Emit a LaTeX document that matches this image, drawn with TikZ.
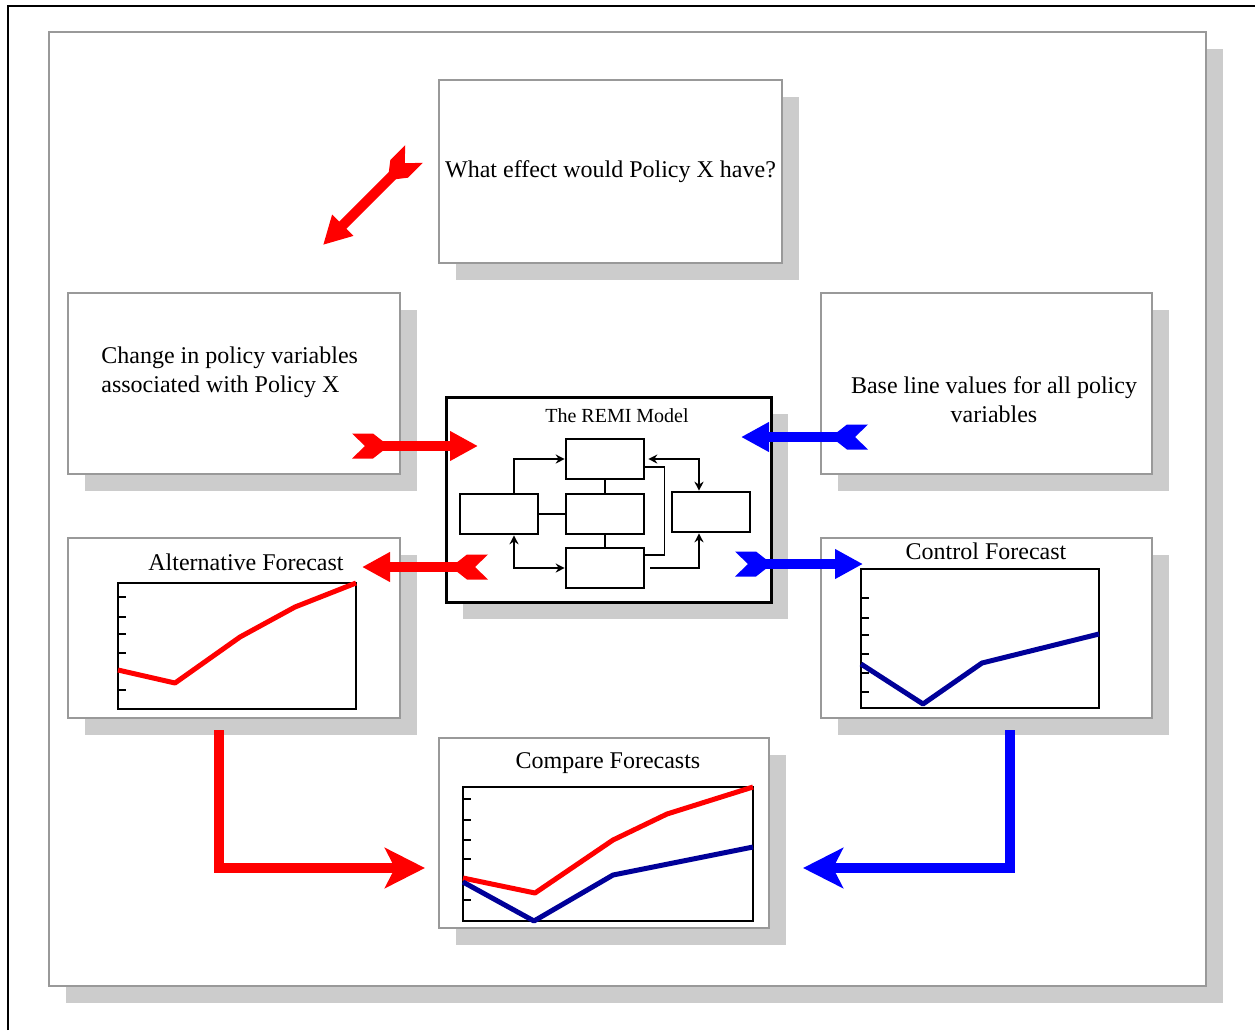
\documentclass[tikz,border=0pt]{standalone}
\usepackage{fontspec}
\setmainfont{Liberation Serif}
\usetikzlibrary{arrows.meta,shadows}
\definecolor{shade}{RGB}{204,204,204}
\definecolor{rim}{RGB}{153,153,153}
\definecolor{navyline}{RGB}{0,0,153}
\tikzset{
  panel/.style={draw=rim, line width=1pt, fill=white, inner sep=0pt, anchor=north west,
    drop shadow={shadow xshift=8.5pt, shadow yshift=-8.5pt, fill=shade, opacity=1}},
  cell/.style={draw, line width=1.3pt, fill=white, minimum width=39pt, minimum height=20pt, inner sep=0pt},
  lbl/.style={font=\fontsize{12}{14.5}\selectfont, inner sep=0pt},
  fat/.style={line width=5pt, shorten <=10pt, -{Triangle[length=14pt,width=14pt]}},
  elbow/.style={line width=5pt, -{Stealth[length=20pt,width=20pt,inset=5pt]}},
  fletch/.pic={\fill (0,-12.5) -- (21,-12.5) -- (37,0) -- (21,12.5) -- (0,12.5) -- (13,0) -- cycle;},
  series/.style={line width=2.5pt, line join=round},
  axes/.style={line width=1.3pt}
}
\begin{document}
\begin{tikzpicture}[x=0.5pt,y=-0.5pt]
\useasboundingbox (0,0) rectangle (1255,1030);
% outer frame
\draw[line width=1.2pt] (8,1030) -- (8,6) -- (1255,6);
% boxes
\node[panel, minimum width=578.5pt, minimum height=477pt] (board) at (48,31) {};
\node[panel, lbl, minimum width=171.5pt, minimum height=91.5pt] (question) at (438,79) {What effect would Policy X have?};
\node[panel, minimum width=166pt, minimum height=90.5pt] (change) at (67,292) {};
\node[lbl, anchor=west, align=left] (changetxt) at (101,372) {Change in policy variables\\associated with Policy X};
\node[panel, minimum width=165.5pt, minimum height=90.5pt] (base) at (820,292) {};
\node[lbl, align=center] (basetxt) at (994,400) {Base line values for all policy\\variables};
\node[panel, draw=black, line width=1.3pt, minimum width=162.5pt, minimum height=102.5pt] (remi) at (445,396) {};
\node[font=\fontsize{10}{12}\selectfont, inner sep=0pt] (remitxt) at (617,416) {The REMI Model};
\node[panel, minimum width=166pt, minimum height=90pt] (alt) at (67,537) {};
\node[lbl] (alttxt) at (246,562) {Alternative Forecast};
\node[panel, minimum width=165.5pt, minimum height=90pt] (ctrl) at (820,537) {};
\node[lbl] (ctrltxt) at (986,551) {Control Forecast};
\node[panel, minimum width=165pt, minimum height=95pt] (cmp) at (438,737) {};
\node[lbl] (cmptxt) at (608,763) {Compare Forecasts};
% model cells
\node[cell] (mtop) at (605,459) {};
\node[cell] (mmid) at (605,514) {};
\node[cell] (mbot) at (605,568) {};
\node[cell] (mleft) at (499,514) {};
\node[cell] (mright) at (711,512) {};
\begin{scope}[line width=0.8pt, >={Stealth[length=4.5pt,width=4.5pt]}]
\draw (mtop) -- (mmid);
\draw (mmid) -- (mbot);
\draw (mleft) -- (mmid);
\draw[->] ([xshift=7.5pt]mleft.north) |- (mtop.west);
\draw[<->] ([xshift=7.5pt]mleft.south) |- (mbot.west);
\draw[<->] ([xshift=-6pt]mright.north) |- ([xshift=1.5pt]mtop.east);
\draw ([yshift=-4pt]mtop.east) -- ++(19,0) |- ([yshift=6.5pt]mbot.east);
\draw[->] ([xshift=2.5pt]mbot.east) -| ([xshift=-6pt]mright.south);
\end{scope}
% charts
\draw[axes] (118,583) rectangle (356,709);
\foreach \t in {597,617,634,653,671,690} \draw[axes] (118,\t) -- ++(8,0);
\draw[red, series] (118,670) -- (175,683) -- (240,637) -- (295,607) -- (356,583);
\draw[axes] (861,569) rectangle (1099,708);
\foreach \t in {598,618,635,654,673,692} \draw[axes] (861,\t) -- ++(8,0);
\draw[navyline, series] (861,664) -- (923,704) -- (982,663) -- (1099,634);
\draw[axes] (463,787) rectangle (753,921);
\foreach \t in {799,820,840,859,880,900} \draw[axes] (463,\t) -- ++(8,0);
\draw[red, series] (463,878) -- (535,893) -- (613,840) -- (667,814) -- (753,787);
\draw[navyline, series] (463,882) -- (534,921) -- (613,875) -- (753,847);
% big arrows
\coordinate (qa) at (414,154); \coordinate (qb) at (323,245);
\coordinate (ca) at (352,446); \coordinate (cb) at (478,446);
\coordinate (aa) at (488,567); \coordinate (ab) at (362,567);
\coordinate (ba) at (868,437); \coordinate (bb) at (741,437);
\coordinate (ka) at (735,564); \coordinate (kb) at (863,564);
\coordinate (la) at (219,730); \coordinate (lb) at (425,868);
\coordinate (ra) at (1010,730); \coordinate (rb) at (803,868);
\draw[red, fat] (qa) -- (qb); \pic[red, rotate=225] at (qa) {fletch};
\draw[red, fat] (ca) -- (cb); \pic[red] at (ca) {fletch};
\draw[red, fat] (aa) -- (ab); \pic[red, rotate=180] at (aa) {fletch};
\draw[blue, fat] (ba) -- (bb); \pic[blue, rotate=180] at (ba) {fletch};
\draw[blue, fat] (ka) -- (kb); \pic[blue] at (ka) {fletch};
\draw[red, elbow] (la) |- (lb);
\draw[blue, elbow] (ra) |- (rb);
\end{tikzpicture}
\end{document}
